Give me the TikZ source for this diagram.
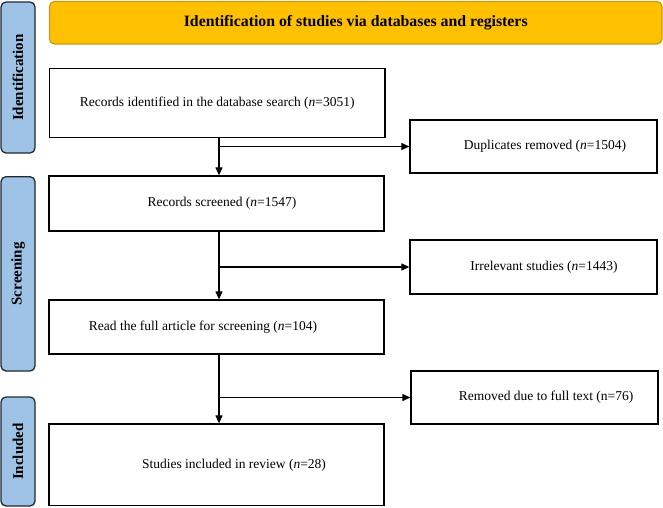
\documentclass[tikz,border=0pt]{standalone}
\usepackage{fontspec}
\setmainfont{Liberation Serif}
\usetikzlibrary{arrows.meta,calc}
\definecolor{hdrfill}{HTML}{FFC000}
\definecolor{hdrdraw}{HTML}{C99A12}
\definecolor{barfill}{HTML}{9FC3E7}
\definecolor{bardraw}{HTML}{1E2A36}
\begin{document}
\begin{tikzpicture}[x=1pt,y=-1pt,
  box/.style={draw=black,line width=1.3pt,rectangle,inner sep=0pt},
  txt/.style={font=\fontsize{13.5}{16}\selectfont,inner sep=0pt},
  bar/.style={draw=bardraw,fill=barfill,line width=1.3pt,rounded corners=5pt,inner sep=0pt,minimum width=34pt},
  barlabel/.style={font=\fontsize{15}{18}\selectfont\bfseries,rotate=90,inner sep=0pt},
  hdr/.style={draw=hdrdraw,fill=hdrfill,line width=1.2pt,rounded corners=5pt,inner sep=0pt},
  arr/.style={line width=1.2pt,-{Triangle[length=8pt,width=7pt]}},
  ]
\useasboundingbox (0,0) rectangle (663,507);

% header
\node[hdr,minimum width=612.5pt,minimum height=42.5pt] (hdr) at (355.75,22.75) {};
\node[font=\fontsize{15.8}{19}\selectfont\bfseries,inner sep=0pt] (hdrt) at (hdr.center) {Identification of studies via databases and registers};

% side bars
\node[bar,minimum height=151pt] (bar1) at (18,77.5) {};
\node[barlabel] (bar1t) at (bar1.center) {Identification};
\node[bar,minimum height=194.3pt] (bar2) at (18,273.85) {};
\node[barlabel] (bar2t) at (bar2.center) {Screening};
\node[bar,minimum height=109pt] (bar3) at (18,451.5) {};
\node[barlabel] (bar3t) at (bar3.center) {Included};

% main boxes
\node[box,minimum width=335.5pt,minimum height=69pt] (b1) at (217.25,103) {};
\node[txt] (b1t) at (b1.center) {Records identified in the database search (\textit{n}=3051)};
\node[box,minimum width=335pt,minimum height=55pt] (b2) at (216.5,203.5) {};
\node[txt] (b2t) at (222,203.5) {Records screened (\textit{n}=1547)};
\node[box,minimum width=335pt,minimum height=54pt] (b3) at (216.5,327) {};
\node[txt] (b3t) at (203,327) {Read the full article for screening (\textit{n}=104)};
\node[box,minimum width=335pt,minimum height=81.5pt] (b4) at (216.5,464.75) {};
\node[txt] (b4t) at (234,464.75) {Studies included in review (\textit{n}=28)};

% side boxes
\node[box,minimum width=247pt,minimum height=53pt] (dup) at (533.5,146.5) {};
\node[txt] (dupt) at (545,146.5) {Duplicates removed (\textit{n}=1504)};
\node[box,minimum width=247pt,minimum height=54pt] (irr) at (533.5,267) {};
\node[txt] (irrt) at (544,267) {Irrelevant studies (\textit{n}=1443)};
\node[box,minimum width=247pt,minimum height=53pt] (rem) at (534.5,397.5) {};
\node[txt] (remt) at (546,397.5) {Removed due to full text (n=76)};

% connectors
\coordinate (spine) at (219,0);
\draw[arr] (b1.south -| spine) -- (b2.north -| spine);
\draw[arr] (spine |- dup.west) -- (dup.west);
\draw[arr] (b2.south -| spine) -- (b3.north -| spine);
\draw[arr] (spine |- irr.west) -- (irr.west);
\draw[arr] (b3.south -| spine) -- (b4.north -| spine);
\draw[arr] (spine |- rem.west) -- (rem.west);
\end{tikzpicture}
\end{document}
